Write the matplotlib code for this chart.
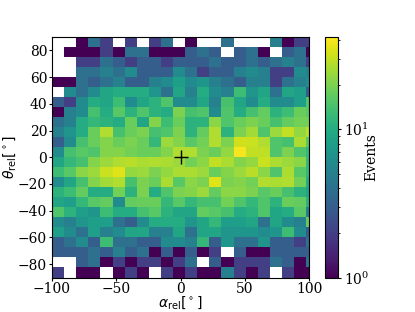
import numpy as np
import matplotlib
matplotlib.use("Agg")
import matplotlib.pyplot as plt
from matplotlib.colors import LogNorm

plt.rcParams['font.family'] = 'DejaVu Serif'
plt.rcParams['mathtext.fontset'] = 'dejavusans'

# events per bin, top row first, 0 = empty bin
row_00 = [0, 0, 1, 4, 2, 0, 2, 0, 2, 4, 0, 1, 0, 0, 4, 0, 0, 0, 5, 1, 2, 2]
row_01 = [0, 1, 1, 1, 2, 1, 4, 4, 1, 1, 1, 3, 4, 3, 0, 3, 4, 1, 0, 3, 4, 1]
row_02 = [0, 0, 2, 2, 4, 3, 2, 3, 3, 2, 3, 3, 3, 4, 3, 3, 4, 3, 4, 5, 4, 2]
row_03 = [0, 0, 4, 4, 5, 4, 6, 3, 3, 3, 6, 4, 2, 3, 3, 5, 6, 5, 2, 2, 6, 5]
row_04 = [1, 1, 4, 3, 4, 5, 3, 3, 5, 6, 8, 6, 7, 5, 4, 3, 5, 5, 2, 4, 5, 6]
row_05 = [0, 6, 4, 6, 9, 10, 10, 10, 7, 4, 9, 5, 10, 6, 5, 13, 7, 9, 4, 9, 8, 3]
row_06 = [3, 2, 6, 10, 9, 13, 6, 9, 11, 15, 6, 6, 9, 5, 14, 9, 6, 10, 6, 6, 8, 15]
row_07 = [1, 5, 6, 14, 10, 16, 11, 15, 11, 10, 20, 14, 15, 6, 15, 10, 14, 17, 11, 13, 18, 16]
row_08 = [4, 5, 10, 12, 11, 10, 18, 9, 21, 13, 18, 11, 11, 22, 15, 18, 20, 18, 14, 17, 19, 19]
row_09 = [5, 7, 10, 18, 27, 14, 18, 20, 14, 15, 20, 11, 17, 27, 11, 20, 25, 15, 24, 30, 23, 28]
row_10 = [3, 6, 14, 18, 21, 18, 20, 18, 12, 24, 21, 16, 19, 27, 20, 32, 31, 27, 15, 14, 26, 16]
row_11 = [6, 14, 16, 15, 21, 21, 19, 18, 18, 21, 27, 27, 20, 18, 23, 40, 30, 29, 15, 20, 15, 12]
row_12 = [9, 12, 14, 21, 24, 27, 28, 26, 27, 26, 24, 19, 22, 30, 26, 21, 23, 31, 26, 24, 22, 12]
row_13 = [13, 16, 22, 24, 31, 35, 23, 24, 20, 23, 26, 26, 24, 18, 21, 24, 28, 22, 15, 26, 16, 12]
row_14 = [6, 9, 14, 21, 25, 27, 14, 20, 18, 26, 16, 22, 20, 35, 20, 21, 19, 27, 26, 27, 19, 10]
row_15 = [11, 13, 17, 10, 10, 19, 11, 20, 10, 15, 20, 21, 24, 17, 22, 22, 20, 16, 18, 14, 11, 9]
row_16 = [9, 8, 12, 16, 17, 6, 17, 18, 18, 12, 16, 12, 14, 14, 19, 15, 12, 15, 11, 18, 17, 11]
row_17 = [15, 11, 8, 7, 13, 10, 10, 14, 16, 11, 9, 9, 17, 16, 14, 10, 11, 15, 9, 10, 16, 5]
row_18 = [6, 5, 7, 8, 8, 4, 3, 6, 10, 10, 10, 7, 9, 12, 8, 8, 9, 4, 9, 6, 5, 17]
row_19 = [8, 6, 4, 8, 5, 6, 9, 9, 5, 5, 9, 4, 9, 9, 7, 7, 7, 6, 7, 13, 6, 3]
row_20 = [3, 4, 6, 3, 13, 4, 4, 3, 3, 6, 6, 5, 12, 3, 7, 4, 4, 7, 3, 3, 2, 4]
row_21 = [3, 3, 3, 4, 3, 5, 3, 4, 1, 3, 1, 3, 1, 2, 0, 3, 1, 1, 3, 3, 3, 3]
row_22 = [0, 0, 3, 4, 1, 2, 1, 2, 2, 1, 2, 4, 0, 3, 1, 2, 2, 2, 4, 3, 1, 4]
row_23 = [2, 0, 1, 1, 0, 1, 2, 1, 0, 2, 1, 2, 1, 1, 5, 2, 1, 2, 0, 2, 1, 1]

rows = [row_00, row_01, row_02, row_03, row_04, row_05, row_06, row_07,
        row_08, row_09, row_10, row_11, row_12, row_13, row_14, row_15,
        row_16, row_17, row_18, row_19, row_20, row_21, row_22, row_23]

x_ticks = [-100, -50, 0, 50, 100]
y_ticks = [-80, -60, -40, -20, 0, 20, 40, 60, 80]

counts = np.ma.masked_equal(np.array(rows[::-1], dtype=float), 0)
x_edges = -100 + 9.42 * np.arange(23)
y_edges = np.linspace(-90, 90, 25)

fig = plt.figure(figsize=(4.15, 3.12), dpi=100)
ax = fig.add_axes([52 / 415, 1 - 277.5 / 312, 257 / 415, 240.5 / 312])
cax = fig.add_axes([325 / 415, 1 - 277.5 / 312, 12.5 / 415, 240.5 / 312])

mesh = ax.pcolormesh(x_edges, y_edges, counts, cmap='viridis', norm=LogNorm(vmin=1, vmax=42))
ax.plot([0], [0], marker='+', color='black', markersize=9.5, linestyle='none')
ax.set_xlim(-100, 100)
ax.set_ylim(-90, 90)
ax.set_xticks(x_ticks)
ax.set_yticks(y_ticks)
ax.tick_params(labelsize=10, length=2, pad=1.5)
ax.set_xlabel(r'$\alpha_{\mathrm{rel}}[^\circ]$', fontsize=10)
ax.set_ylabel(r'$\theta_{\mathrm{rel}}[^\circ]$', fontsize=10)
ax.xaxis.set_label_coords(0.5, -0.07)
ax.yaxis.set_label_coords(-0.132, 0.5)

cb = fig.colorbar(mesh, cax=cax)
cb.set_label('Events', fontsize=10)
cb.ax.yaxis.set_label_coords(3.15, 0.5)
cb.ax.tick_params(which='major', labelsize=10, length=2.5, pad=2)
cb.ax.tick_params(which='minor', length=1.5)

fig.savefig('out.png', dpi=100)
